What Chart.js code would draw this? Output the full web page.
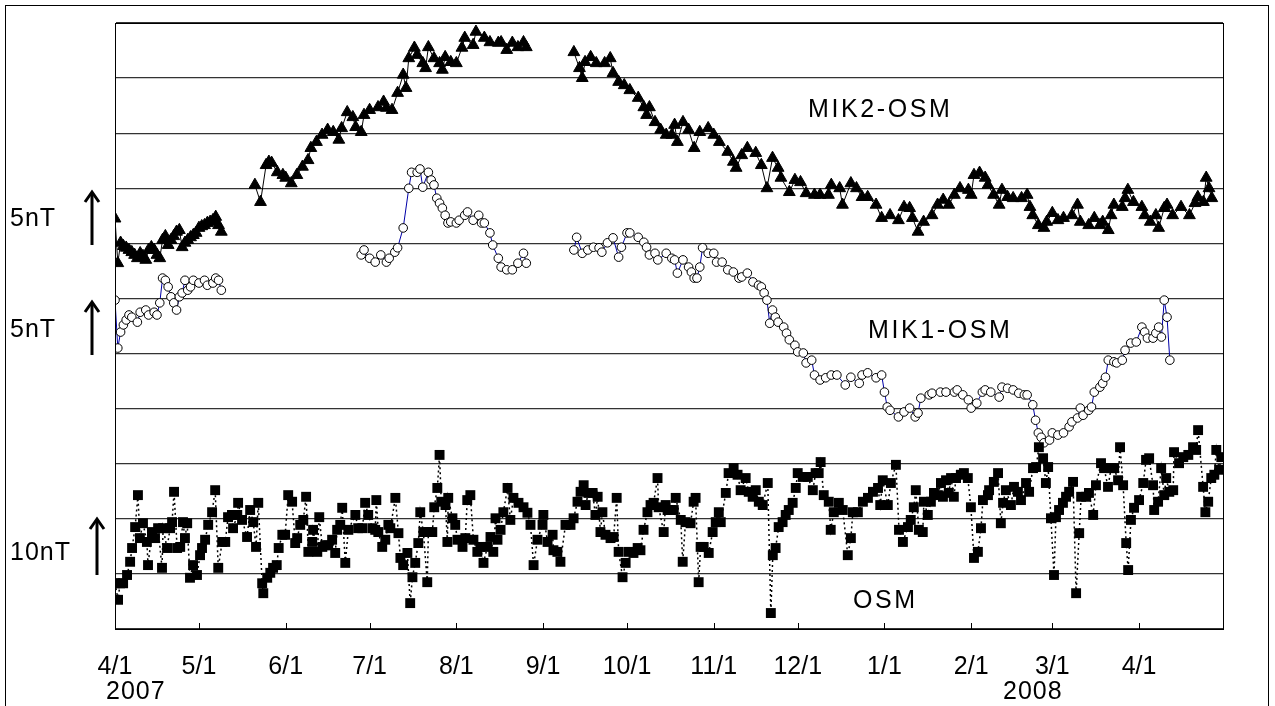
<!DOCTYPE html>
<html><head><meta charset="utf-8">
<script src="https://cdn.jsdelivr.net/npm/chart.js@4/dist/chart.umd.min.js"></script>
<style>html,body{margin:0;padding:0;background:#fff;}canvas{display:block;}</style>
</head><body>
<canvas id="c" width="1275" height="706"></canvas>
<script>
// x values are days since 2007-04-01
const monthTickDays = [0,30,61,91,122,153,183,214,244,275,306,335,366];
const monthTickLabels = ['4/1','5/1','6/1','7/1','8/1','9/1','10/1','11/1','12/1','1/1','2/1','3/1','4/1'];
const yearLabels = ['2007','2008'];
const seriesNames = ['MIK2-OSM','MIK1-OSM','OSM'];
const scaleLabels = ['5nT','5nT','10nT'];

// y unit: 1 grid = 10 units (MIK: 5 nT per grid, OSM: 10 nT per grid)
const mik2Data = [
[0,74.5],[1,66.4],[2,70.1],[3,69.5],[4,69.2],[5,68.8],[6,68.4],[7,67.9],[8,67.3],[9,68.2],[10,67.7],[11,67.0],[12,68.8],[13,69.3],[14,68.8],[15,67.9],[16,67.3],[17,70.6],[18,71.3],[19,69.7],[20,70.6],[21,71.3],[22,72.1],[23,72.4],[24,69.3],[25,70.1],[26,70.6],[27,71.1],[28,71.5],[29,71.9],[30,72.8],[31,73.1],[32,73.3],[33,73.7],[34,73.9],[35,74.2],[36,74.8],[37,73.3],[38,72.1],
[44,null],
[50,80.6],[52,77.5],[54,84.2],[55,84.8],[56,84.6],[58,82.9],[60,82.4],[61,81.9],[63,80.9],[65,82.4],[67,83.9],[69,85.1],[70,87.3],[72,88.4],[74,89.7],[76,90.6],[78,90.2],[80,88.8],[81,90.9],[83,93.8],[85,92.9],[86,91.1],[88,90.2],[89,93.3],[91,94.2],[94,94.7],[96,95.7],[97,94.6],[99,94.2],[101,97.3],[103,100.6],[104,98.2],[105,103.6],[107,105.5],[108,104.2],[110,102.7],[111,101.8],[112,105.6],[114,103.6],[116,102.7],[117,101.5],[118,103.8],[120,102.9],[122,102.7],[124,105.5],[125,107.3],[128,106.0],[129,108.4],[132,107.3],[134,106.5],[137,106.4],[138,106.5],[140,105.1],[142,106.4],[144,105.6],[146,106.5],[147,105.6],
[155,null],
[164,104.7],[166,101.8],[167,100.0],[168,102.9],[170,103.8],[172,102.7],[175,102.7],[177,103.6],[178,100.9],[180,99.3],[182,98.7],[184,97.8],[187,96.4],[189,94.7],[190,93.3],[191,94.7],[193,92.0],[195,90.6],[197,89.7],[199,89.7],[200,91.5],[201,88.4],[203,92.0],[205,90.6],[207,87.3],[209,90.2],[212,90.9],[214,89.7],[216,88.4],[219,86.6],[221,84.8],[222,83.7],[224,86.0],[226,87.3],[229,86.4],[231,84.2],[233,80.0],[235,85.5],[237,83.7],[238,81.9],[241,79.3],[243,81.5],[245,81.1],[247,79.1],[250,78.8],[252,78.8],[255,78.8],[256,80.6],[259,80.0],[260,77.0],[263,80.9],[265,80.0],[267,78.4],[269,78.4],[272,77.0],[274,74.6],[277,75.1],[280,74.2],[282,76.6],[284,76.4],[285,74.6],[287,72.1],[289,73.9],[292,75.1],[294,77.0],[296,77.9],[298,77.0],[300,78.8],[302,80.0],[305,79.7],[306,78.8],[307,82.4],[309,82.8],[311,81.9],[312,80.6],[314,78.8],[316,77.0],[317,79.7],[319,78.4],[321,78.2],[324,78.2],[326,78.8],[327,76.6],[328,75.1],[330,73.3],[332,72.8],[333,73.9],[335,75.5],[337,74.2],[339,74.6],[342,75.1],[344,77.0],[345,73.9],[348,73.3],[350,74.6],[352,73.3],[353,73.9],[355,72.4],[356,75.1],[357,77.0],[360,76.6],[361,78.2],[362,79.7],[364,77.5],[367,76.6],[368,75.1],[370,73.9],[372,75.1],[373,72.8],[375,76.4],[376,77.0],[378,75.1],[381,76.6],[384,75.1],[386,77.3],[387,78.4],[389,77.5],[390,81.9],[391,80.0],[392,78.2]
];

const mik1Data = [
[0,59.7],[1,51.0],[2,53.9],[3,55.2],[4,56.1],[5,57.0],[6,56.6],[8,55.7],[9,57.5],[11,57.9],[12,57.0],[14,57.5],[15,57.0],[16,59.2],[17,63.7],[18,63.3],[19,62.1],[20,60.3],[21,59.2],[22,57.9],[23,60.3],[24,61.0],[25,63.3],[26,61.5],[27,62.1],[28,63.3],[30,62.8],[32,63.3],[33,62.4],[35,62.8],[36,63.7],[37,63.3],[38,61.5],
[60,null],
[88,67.9],[89,68.8],[91,67.3],[93,66.6],[95,67.9],[97,66.6],[98,67.3],[100,68.4],[101,69.2],[103,72.8],[105,80.0],[106,82.9],[108,82.9],[109,83.5],[110,80.2],[112,82.9],[113,81.5],[114,80.6],[115,78.2],[116,77.3],[117,76.4],[118,75.1],[119,73.7],[120,73.9],[122,73.7],[123,74.2],[125,75.1],[126,75.7],[128,74.2],[130,75.1],[131,73.7],[132,73.7],[134,71.9],[135,69.7],[137,67.3],[138,65.7],[140,65.2],[142,65.2],[144,66.4],[146,68.2],[147,66.4],
[155,null],
[164,68.8],[165,71.1],[167,68.2],[169,68.8],[171,69.3],[173,69.2],[174,68.4],[176,70.1],[178,71.0],[180,67.5],[181,69.3],[183,71.9],[184,71.9],[187,71.1],[189,70.2],[190,69.3],[191,67.9],[193,68.2],[194,67.0],[197,68.2],[199,67.3],[200,67.0],[201,64.6],[203,67.0],[205,65.7],[206,64.8],[207,63.7],[208,63.7],[209,65.7],[210,69.2],[212,68.2],[214,68.2],[215,66.6],[217,66.6],[219,65.2],[221,64.8],[223,63.7],[224,63.9],[226,64.6],[228,63.0],[230,62.4],[231,62.1],[232,61.0],[233,59.7],[234,55.5],[235,57.9],[236,56.6],[237,55.7],[239,54.8],[240,53.7],[241,52.5],[243,51.5],[244,50.3],[246,50.1],[247,48.3],[249,48.8],[250,46.1],[252,45.2],[254,45.6],[256,46.1],[258,46.1],[261,44.3],[263,45.7],[266,44.6],[267,46.1],[269,46.5],[272,45.6],[274,46.1],[275,43.0],[276,40.3],[277,39.7],[280,38.5],[282,39.4],[284,40.1],[286,38.5],[287,39.2],[288,41.9],[291,42.5],[292,42.8],[295,43.0],[297,43.0],[300,43.0],[301,43.4],[303,42.5],[305,41.6],[306,40.1],[308,41.0],[310,43.0],[311,43.4],[313,43.0],[316,42.1],[317,43.9],[319,43.7],[321,43.4],[323,42.8],[325,42.5],[326,42.5],[328,40.7],[329,37.9],[330,35.6],[331,34.8],[332,33.8],[334,34.3],[335,35.6],[337,35.2],[339,35.6],[341,36.7],[342,37.6],[344,38.3],[345,40.1],[346,38.8],[348,39.7],[349,40.3],[350,43.0],[352,43.9],[353,44.6],[354,45.7],[355,48.8],[357,48.5],[358,48.3],[360,48.8],[361,50.6],[363,51.9],[365,52.1],[367,54.8],[368,53.9],[369,52.8],[371,52.8],[372,53.7],[373,54.8],[374,53.0],[375,59.7],[376,56.6],[377,48.8]
];

const osmData = [
[0,8.3],[1.1,5.3],[1.8,8.3],[2.9,8.3],[4.3,9.8],[5.4,12.2],[6.1,14.7],[7.2,18.5],[8.2,24.3],[8.9,16.5],[10.0,19.2],[11.4,15.8],[11.8,11.6],[13.2,17.6],[14.3,16.5],[15.4,18.3],[16.8,11.1],[17.2,18.3],[18.6,14.7],[19.7,18.3],[20.4,19.4],[21.1,24.9],[22.2,14.7],[23.3,14.9],[24.3,19.4],[25.0,16.5],[25.8,19.2],[26.8,9.3],[27.9,11.6],[29.3,9.8],[30.4,13.4],[31.1,14.7],[32.2,16.2],[33.3,18.9],[34.7,21.2],[35.8,25.2],[36.9,11.1],[38.3,15.8],[39.4,15.8],[40.4,20.3],[41.8,20.7],[42.2,18.3],[43.7,20.7],[44.0,22.9],[45.4,19.8],[47.2,16.7],[48.3,21.6],[49.4,19.4],[50.4,14.9],[51.2,22.9],[52.6,8.3],[53.0,6.5],[54.4,9.3],[55.5,10.2],[56.5,11.1],[57.8,11.6],[58.5,14.7],[59.8,17.1],[60.8,17.1],[61.9,24.3],[63.3,23.1],[64.4,15.6],[65.1,16.5],[66.2,18.9],[67.3,19.8],[68.3,24.0],[69.1,14.0],[70.5,15.8],[70.8,18.0],[72.3,14.0],[73.0,20.3],[74.1,14.9],[75.1,15.2],[76.2,15.2],[77.6,16.2],[78.7,13.8],[79.4,18.0],[80.5,18.9],[81.2,22.0],[82.3,12.0],[83.4,18.0],[85.9,20.7],[86.9,18.3],[88.4,18.3],[89.4,22.9],[90.5,20.7],[92.0,18.3],[93.0,18.0],[93.4,23.4],[94.1,17.6],[95.5,14.9],[96.6,16.2],[97.7,18.9],[98.4,18.3],[100.2,23.8],[101.3,17.4],[102.0,12.9],[103.0,11.6],[104.5,13.8],[105.5,4.7],[106.3,9.4],[107.3,12.0],[108.4,15.6],[109.1,21.2],[110.2,17.6],[111.6,8.5],[112.0,17.6],[113.4,17.6],[114.1,22.1],[115.2,25.6],[116.0,31.6],[116.6,23.1],[118.1,22.5],[118.8,15.8],[119.1,23.8],[120.6,20.1],[121.6,18.9],[122.4,16.2],[124.2,14.9],[125.2,16.5],[125.9,23.4],[127.0,24.3],[128.1,16.2],[129.5,14.0],[130.6,14.9],[131.7,12.0],[133.1,14.9],[134.2,16.7],[135.2,14.0],[136.0,20.1],[136.7,16.2],[137.8,18.0],[138.8,21.2],[140.3,25.6],[141.3,19.8],[142.4,23.8],[144.2,22.9],[146.0,22.1],[147.4,21.1],[148.5,18.9],[149.6,11.6],[151.0,16.2],[152.8,18.9],[153.1,20.7],[154.6,15.8],[156.4,17.1],[156.7,14.3],[158.1,14.0],[159.2,12.2],[161.0,18.9],[162.8,18.9],[163.9,20.1],[165.3,23.1],[166.4,24.9],[167.5,26.1],[168.2,22.5],[169.2,24.7],[170.7,24.7],[171.7,20.7],[172.5,24.0],[173.5,17.6],[174.2,21.2],[175.3,17.1],[177.1,16.5],[178.2,16.7],[179.3,23.8],[180.0,14.0],[181.4,9.4],[182.5,12.0],[183.6,14.0],[185.3,13.8],[186.8,14.7],[187.8,14.3],[188.9,18.0],[190.3,21.2],[191.4,22.5],[192.5,22.9],[193.9,27.4],[194.3,22.1],[196.1,17.6],[196.8,22.5],[197.5,21.6],[198.6,21.6],[199.7,21.6],[200.4,23.8],[202.2,19.8],[202.9,12.2],[203.9,19.4],[205.7,19.2],[206.8,23.1],[207.5,23.8],[208.6,8.5],[209.3,14.9],[210.4,14.9],[212.2,13.8],[213.6,17.6],[214.7,19.4],[215.8,21.2],[216.5,19.4],[218.3,24.7],[219.3,28.3],[221.1,29.2],[222.5,28.0],[223.6,25.2],[225.4,27.4],[226.5,24.9],[227.9,24.0],[229.0,25.2],[230.1,23.1],[231.5,22.5],[233.3,26.5],[234.4,2.9],[235.1,13.4],[236.1,14.7],[237.2,18.5],[238.6,19.4],[239.7,20.7],[240.8,21.6],[242.2,22.9],[243.3,25.6],[244.0,28.3],[245.8,27.6],[247.6,27.6],[249.4,25.2],[250.4,28.3],[251.5,28.3],[252.2,30.3],[253.3,24.3],[255.1,23.1],[255.8,18.0],[256.9,21.2],[258.7,22.9],[260.1,21.6],[261.9,13.4],[263.0,16.5],[263.7,21.2],[265.5,21.2],[267.3,23.1],[269.1,23.8],[270.9,24.9],[272.7,25.6],[273.5,22.5],[274.4,27.0],[276.2,22.5],[277.3,26.5],[279.1,29.8],[280.2,18.0],[281.6,15.8],[283.4,18.5],[284.4,19.8],[285.5,22.1],[286.2,25.2],[287.3,18.0],[288.7,17.6],[289.1,23.1],[290.5,20.7],[291.6,23.1],[292.7,24.7],[294.1,24.3],[295.2,26.5],[295.9,24.0],[297.0,27.0],[298.0,24.7],[298.8,27.4],[299.8,24.0],[300.6,27.4],[302.3,28.0],[303.4,28.3],[304.8,27.4],[305.9,22.1],[307.0,12.9],[308.4,14.0],[309.5,18.3],[310.2,23.4],[312.0,24.3],[312.4,25.2],[314.1,26.7],[315.6,28.3],[316.6,19.2],[317.4,22.9],[318.4,25.2],[320.2,22.5],[321.3,25.8],[322.7,24.9],[323.8,23.4],[325.6,26.5],[326.7,24.9],[328.1,29.2],[329.2,29.4],[330.2,33.0],[331.7,31.0],[332.7,26.5],[333.5,29.4],[334.5,20.1],[335.6,9.8],[336.3,20.3],[337.4,21.6],[338.8,22.9],[339.9,24.0],[341.0,24.9],[342.4,26.7],[343.5,6.5],[344.6,17.4],[345.3,24.0],[347.1,24.0],[348.1,24.7],[349.6,20.7],[350.6,26.1],[352.4,30.1],[353.5,29.2],[354.9,25.8],[356.0,29.2],[357.1,29.2],[358.5,27.0],[359.2,33.0],[360.3,26.1],[361.4,15.6],[362.1,10.7],[363.1,19.8],[364.2,22.0],[366.0,23.4],[367.5,26.5],[368.5,30.7],[369.6,31.0],[371.0,26.1],[371.4,21.6],[372.8,23.1],[373.9,29.2],[375.0,24.3],[375.7,27.4],[376.8,24.9],[378.2,25.2],[378.5,32.1],[380.3,30.1],[381.8,31.2],[383.6,31.6],[385.3,33.0],[386.4,32.5],[387.1,36.1],[388.9,25.8],[389.7,21.2],[390.7,23.1],[391.8,27.4],[392.9,28.0],[393.6,32.5],[394.6,28.9],[395.4,31.2]
];

const toXY = arr => arr.map(p => ({x: p[0], y: p[1]}));
const FONT = "'Liberation Sans', Arial, sans-serif";

const annot = {
  id: 'annot',
  beforeDraw(chart) {
    const c = chart.ctx;
    c.save();
    c.fillStyle = '#fff';
    c.fillRect(0, 0, chart.width, chart.height);
    c.restore();
  },
  afterDraw(chart) {
    const c = chart.ctx, a = chart.chartArea, xs = chart.scales.x;
    c.save();
    // outer frame
    c.strokeStyle = '#000'; c.lineWidth = 1;
    c.strokeRect(5.5, 5.5, 1263, 704);
    // plot frame
    c.strokeRect(Math.round(a.left) + 0.5, Math.round(a.top) + 0.5, Math.round(a.right - a.left), Math.round(a.bottom - a.top));
    // inside tick marks
    c.beginPath();
    monthTickDays.forEach(d => {
      const px = Math.round(xs.getPixelForValue(d)) + 0.5;
      c.moveTo(px, a.bottom); c.lineTo(px, a.bottom - 6);
    });
    c.stroke();
    // text
    c.fillStyle = '#000';
    c.font = '25px ' + FONT;
    c.textBaseline = 'alphabetic';
    c.textAlign = 'left';
    c.letterSpacing = '1px';
    c.fillText(yearLabels[0], 106, 699);
    c.fillText(yearLabels[1], 1003, 699);
    c.fillText(scaleLabels[0], 10, 226);
    c.fillText(scaleLabels[1], 10, 337);
    c.fillText(scaleLabels[2], 10, 560);
    c.letterSpacing = '2.6px';
    c.fillText(seriesNames[0], 808, 117);
    c.fillText(seriesNames[1], 868, 338);
    c.fillText(seriesNames[2], 853, 608);
    c.letterSpacing = '0px';
    // arrows
    const arrow = (x, yTop, yBot) => {
      c.lineWidth = 3; c.lineCap = 'butt';
      c.beginPath(); c.moveTo(x, yBot); c.lineTo(x, yTop + 2); c.stroke();
      c.beginPath(); c.moveTo(x - 7, yTop + 10); c.lineTo(x, yTop); c.lineTo(x + 7, yTop + 10); c.stroke();
    };
    arrow(92, 192, 245);
    arrow(92, 302, 355);
    arrow(97, 519, 575);
    c.restore();
  }
};

new Chart(document.getElementById('c'), {
  type: 'line',
  data: {
    datasets: [
      { label: seriesNames[2], data: toXY(osmData), showLine: true, spanGaps: false, tension: 0,
        borderColor: '#000', borderWidth: 1.5, borderDash: [2, 3],
        pointStyle: 'rect', pointRadius: 7, pointBackgroundColor: '#000', pointBorderColor: '#000', pointBorderWidth: 0 },
      { label: seriesNames[1], data: toXY(mik1Data), showLine: true, spanGaps: false, tension: 0,
        borderColor: '#0000a8', borderWidth: 1,
        pointStyle: 'circle', pointRadius: 4.3, pointBackgroundColor: '#fff', pointBorderColor: '#000', pointBorderWidth: 1 },
      { label: seriesNames[0], data: toXY(mik2Data), showLine: true, spanGaps: false, tension: 0,
        borderColor: '#000', borderWidth: 1,
        pointStyle: 'triangle', pointRadius: 6.8, pointBackgroundColor: '#000', pointBorderColor: '#000', pointBorderWidth: 1 }
    ]
  },
  options: {
    responsive: false, animation: false, devicePixelRatio: 1,
    layout: { padding: { left: 115, right: 52, top: 23, bottom: 0 } },
    plugins: { legend: { display: false }, tooltip: { enabled: false } },
    scales: {
      x: {
        type: 'linear', min: 0, max: 396,
        afterBuildTicks: s => { s.ticks = monthTickDays.map(v => ({ value: v })); },
        afterFit: s => { s.height = 77; },
        ticks: {
          autoSkip: false, maxRotation: 0, minRotation: 0, padding: 15, color: '#000',
          font: { family: FONT, size: 25 },
          callback: v => monthTickLabels[monthTickDays.indexOf(v)]
        },
        grid: { display: false },
        border: { display: true, color: '#000', width: 1 }
      },
      y: {
        min: 0, max: 110,
        afterFit: s => { s.width = 0; },
        ticks: { display: false, stepSize: 10 },
        grid: { color: '#333', lineWidth: 1.3, drawTicks: false },
        border: { display: true, color: '#000', width: 1 }
      }
    }
  },
  plugins: [annot]
});
</script>
</body></html>
